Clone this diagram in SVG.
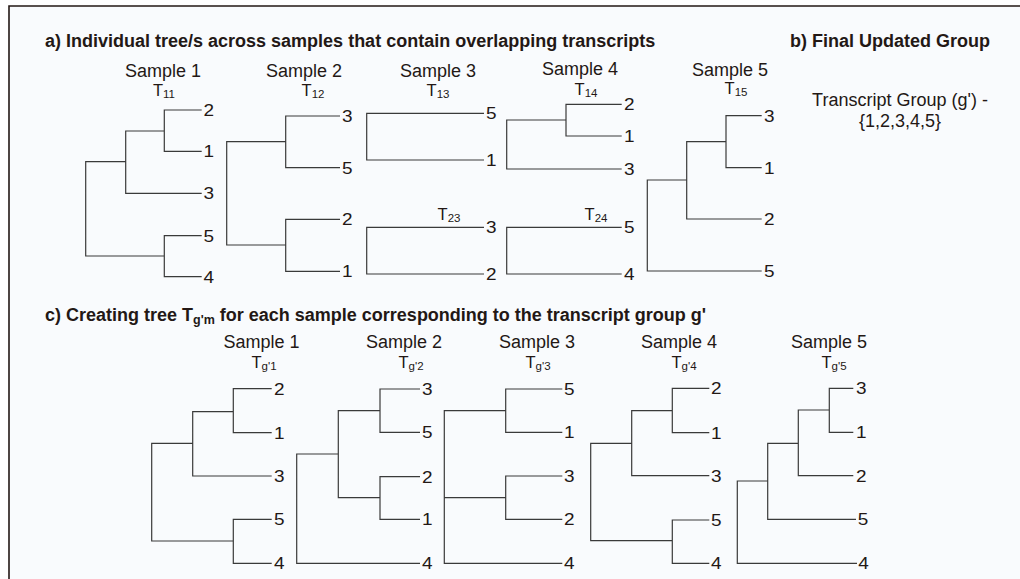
<svg xmlns="http://www.w3.org/2000/svg" width="1020" height="579" viewBox="0 0 1020 579">
<style>
text{font-family:"Liberation Sans",Arial,sans-serif;fill:#231815}
.h{font-size:18px;font-weight:bold}
.s{font-size:18px;text-anchor:middle}
.t{font-size:16.5px;text-anchor:middle}
.sub{font-size:11.5px}
.hs{font-size:12.5px}
.n{font-size:16.5px}
.ln{fill:none;stroke:#3a3a3a;stroke-width:1.2}
</style>
<rect x="0" y="0" width="1020" height="579" fill="#ffffff"/>
<rect x="9" y="6" width="1011" height="573" fill="#f9fbfd"/>
<path d="M9,579 V6 H1020" fill="none" stroke="#231815" stroke-width="1.6"/>

<g id="titles">
<text class="h" x="45" y="47">a) Individual tree/s across samples that contain overlapping transcripts</text>
<text class="h" x="790" y="47">b) Final Updated Group</text>
<text class="h" x="45" y="321">c) Creating tree T<tspan class="hs" dy="3">g'm</tspan><tspan dy="-3"> for each sample corresponding to the transcript group g'</tspan></text>
</g>

<g id="group-b">
<text class="s" x="900" y="106">Transcript Group (g') -</text>
<text class="s" x="900" y="127">{1,2,3,4,5}</text>
</g>

<g id="connectors">
<path class="ln" d="M201.7,110 H164.3 V151.3 H201.7 M164.3,131 H125.7 V193.3 H201.7 M125.7,161.7 H85.7 V256 H164.3 M201.7,235.7 H164.3 V276.7 H201.7"/>
<path class="ln" d="M340,116 H285.7 V167.7 H340 M285.7,141.7 H226.7 V245 H285.7 M340,219.3 H285.7 V271.3 H340"/>
<path class="ln" d="M484,113.3 H366.7 V160 H484 M484,227.3 H366.7 V274 H484"/>
<path class="ln" d="M621.7,104.3 H566 V136 H621.7 M566,120 H506.7 V169 H621.7 M621.7,227.3 H506.7 V274 H621.7"/>
<path class="ln" d="M761.7,115.7 H726 V167.7 H761.7 M726,141.7 H686.7 V219 H761.7 M686.7,180 H647.3 V271 H761.7"/>
<path class="ln" d="M271.7,388.7 H233.3 V432.7 H271.7 M233.3,411.7 H192.7 V476 H271.7 M192.7,443.3 H151.7 V541 H233.3 M271.7,519.3 H233.3 V563.3 H271.7"/>
<path class="ln" d="M420,389 H380 V432.3 H420 M420,476.7 H380 V519.3 H420 M380,410.7 H338.3 V497.7 H380 M338.3,454 H296.7 V563.3 H420"/>
<path class="ln" d="M562.3,389 H505.7 V432.3 H562.3 M562.3,476 H505.7 V519.3 H562.3 M505.7,410.7 H444.3 V563.3 H562.3 M444.3,497.7 H505.7"/>
<path class="ln" d="M709.3,388.3 H672.3 V432.7 H709.3 M672.3,410.7 H631.7 V475.7 H709.3 M631.7,443.3 H590.7 V540.7 H672.3 M709.3,520 H672.3 V563.3 H709.3"/>
<path class="ln" d="M853.3,388.3 H829.3 V432.3 H853.3 M829.3,410 H798.3 V475.7 H853.3 M798.3,443.3 H767.7 V519.3 H856 M767.7,481 H737.3 V563.3 H857"/>
</g>

<g id="a-sample1">
<text class="s" x="163" y="77">Sample 1</text>
<text class="t" x="164" y="96">T<tspan class="sub" dy="2">11</tspan></text>
<g transform="translate(203.5,0) scale(1.15,1)"><text class="n" x="0" y="116">2</text><text class="n" x="0" y="157">1</text><text class="n" x="0" y="199">3</text><text class="n" x="0" y="242">5</text><text class="n" x="0" y="283">4</text></g>
</g>
<g id="a-sample2">
<text class="s" x="304" y="77">Sample 2</text>
<text class="t" x="313" y="96">T<tspan class="sub" dy="2">12</tspan></text>
<g transform="translate(342,0) scale(1.15,1)"><text class="n" x="0" y="122">3</text><text class="n" x="0" y="174">5</text><text class="n" x="0" y="225">2</text><text class="n" x="0" y="277">1</text></g>
</g>
<g id="a-sample3">
<text class="s" x="438" y="77">Sample 3</text>
<text class="t" x="438" y="96">T<tspan class="sub" dy="2">13</tspan></text>
<text class="t" x="449" y="220">T<tspan class="sub" dy="2">23</tspan></text>
<g transform="translate(486,0) scale(1.15,1)"><text class="n" x="0" y="119">5</text><text class="n" x="0" y="166">1</text><text class="n" x="0" y="233">3</text><text class="n" x="0" y="280">2</text></g>
</g>
<g id="a-sample4">
<text class="s" x="580" y="75">Sample 4</text>
<text class="t" x="586" y="95">T<tspan class="sub" dy="2">14</tspan></text>
<text class="t" x="596" y="220">T<tspan class="sub" dy="2">24</tspan></text>
<g transform="translate(624,0) scale(1.15,1)"><text class="n" x="0" y="110">2</text><text class="n" x="0" y="142">1</text><text class="n" x="0" y="175">3</text><text class="n" x="0" y="233">5</text><text class="n" x="0" y="280">4</text></g>
</g>
<g id="a-sample5">
<text class="s" x="730" y="76">Sample 5</text>
<text class="t" x="736" y="94">T<tspan class="sub" dy="2">15</tspan></text>
<g transform="translate(764,0) scale(1.15,1)"><text class="n" x="0" y="122">3</text><text class="n" x="0" y="174">1</text><text class="n" x="0" y="225">2</text><text class="n" x="0" y="277">5</text></g>
</g>

<g id="c-sample1">
<text class="s" x="261.5" y="348">Sample 1</text>
<text class="t" x="264" y="368">T<tspan class="sub" dy="2">g'1</tspan></text>
<g transform="translate(274,0) scale(1.15,1)"><text class="n" x="0" y="395">2</text><text class="n" x="0" y="439">1</text><text class="n" x="0" y="482">3</text><text class="n" x="0" y="525">5</text><text class="n" x="0" y="569">4</text></g>
</g>
<g id="c-sample2">
<text class="s" x="404" y="348">Sample 2</text>
<text class="t" x="411" y="368">T<tspan class="sub" dy="2">g'2</tspan></text>
<g transform="translate(422,0) scale(1.15,1)"><text class="n" x="0" y="395">3</text><text class="n" x="0" y="438">5</text><text class="n" x="0" y="483">2</text><text class="n" x="0" y="525">1</text><text class="n" x="0" y="569">4</text></g>
</g>
<g id="c-sample3">
<text class="s" x="537" y="348">Sample 3</text>
<text class="t" x="538" y="368">T<tspan class="sub" dy="2">g'3</tspan></text>
<g transform="translate(564,0) scale(1.15,1)"><text class="n" x="0" y="395">5</text><text class="n" x="0" y="438">1</text><text class="n" x="0" y="482">3</text><text class="n" x="0" y="525">2</text><text class="n" x="0" y="569">4</text></g>
</g>
<g id="c-sample4">
<text class="s" x="679" y="348">Sample 4</text>
<text class="t" x="684" y="368">T<tspan class="sub" dy="2">g'4</tspan></text>
<g transform="translate(711,0) scale(1.15,1)"><text class="n" x="0" y="394">2</text><text class="n" x="0" y="439">1</text><text class="n" x="0" y="482">3</text><text class="n" x="0" y="526">5</text><text class="n" x="0" y="569">4</text></g>
</g>
<g id="c-sample5">
<text class="s" x="829" y="348">Sample 5</text>
<text class="t" x="834" y="368">T<tspan class="sub" dy="2">g'5</tspan></text>
<g transform="translate(856,0) scale(1.15,1)"><text class="n" x="0" y="394">3</text><text class="n" x="0" y="438">1</text><text class="n" x="0" y="482">2</text><text class="n" x="1.5" y="525">5</text><text class="n" x="2" y="569">4</text></g>
</g>
</svg>
